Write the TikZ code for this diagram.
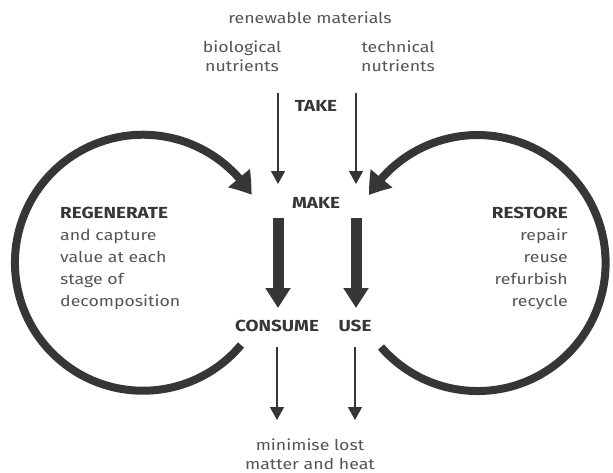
\documentclass[tikz,border=0pt]{standalone}
\usepackage{fontspec}
\setmainfont{Fira Sans}[FakeStretch=1.18]
\usetikzlibrary{arrows.meta,bending}
\definecolor{ink}{HTML}{363636}
\definecolor{txt}{HTML}{555555}

\begin{document}
\begin{tikzpicture}[x=1pt,y=-1pt,
  lbl/.style={text=txt,font=\fontsize{15}{19}\selectfont,align=center,inner sep=0pt},
  blk/.style={text=txt,font=\fontsize{15}{22}\selectfont,inner sep=0pt},
  key/.style={text=ink,font=\bfseries\fontsize{16}{16}\selectfont,inner sep=0pt},
  thin/.style={draw=ink,line width=1.4pt,-{Triangle[width=14pt,length=13pt]}},
  fat/.style={draw=ink,line width=11pt,-{Triangle[width=24pt,length=20pt]}},
  loop/.style={draw=ink,line width=8pt,-{Triangle[width=27pt,length=21pt,bend]}}]
\useasboundingbox (0,0) rectangle (613,472);
\fill[white] (0,0) rectangle (613,472);
% inputs
\node[lbl] (renew) at (310,18) {renewable materials};
\node[lbl] (bio) at (242,56) {biological\\nutrients};
\node[lbl] (tech) at (398,56) {technical\\nutrients};
\node[key] (take) at (316,106) {TAKE};
\node[key] (make) at (316,203) {MAKE};
\node[key] (consume) at (277,326) {CONSUME};
\node[key] (use) at (355,326) {USE};
\node[lbl] (lost) at (310,454) {minimise lost\\matter and heat};
% side loops text
\node[blk,anchor=north west,align=left] (regen) at (60,207)
  {\textcolor{ink}{\bfseries\fontsize{16}{22}\selectfont REGENERATE}\\and capture\\value at each\\stage of\\decomposition};
\node[blk,anchor=north east,align=right] (restore) at (568,207)
  {\textcolor{ink}{\bfseries\fontsize{16}{22}\selectfont RESTORE}\\repair\\reuse\\refurbish\\recycle};
% arrow ends
\coordinate (bin) at (278,93);
\coordinate (bmk) at (278,184);
\coordinate (tin) at (356,93);
\coordinate (tmk) at (356,184);
\coordinate (bfrom) at (278,218);
\coordinate (bto) at (278,308);
\coordinate (tfrom) at (356,218);
\coordinate (tto) at (356,308);
\coordinate (bout) at (277,347);
\coordinate (bend) at (277,420);
\coordinate (tout) at (355,347);
\coordinate (tend) at (355,420);
\draw[thin] (bin) -- (bmk);
\draw[thin] (tin) -- (tmk);
\draw[fat] (bfrom) -- (bto);
\draw[fat] (tfrom) -- (tto);
\draw[thin] (bout) -- (bend);
\draw[thin] (tout) -- (tend);
% loops
\draw[loop] (241,345) arc[start angle=40,end angle=328,radius=128];
\draw[loop] (381,347) arc[start angle=139,end angle=-148,radius=128];
\end{tikzpicture}
\end{document}
